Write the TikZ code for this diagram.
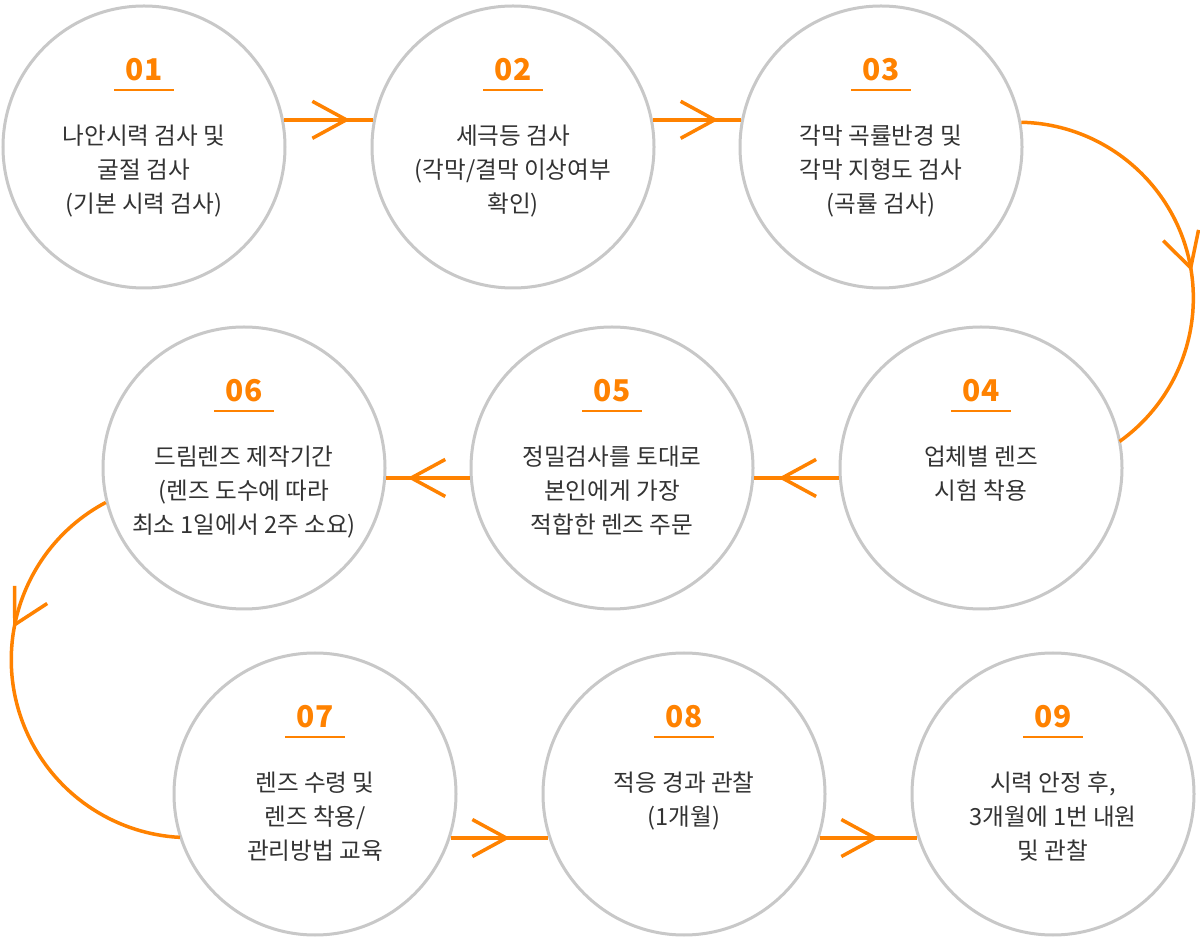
\documentclass[tikz,border=0pt]{standalone}
\usepackage{fontspec}
\newfontfamily\kr{Noto Sans CJK KR}
\usetikzlibrary{decorations.markings}
\definecolor{org}{HTML}{FF8200}
\definecolor{ring}{HTML}{C8C8C8}
\definecolor{txt}{HTML}{333333}
\tikzset{
  stepcircle/.style={circle, draw=ring, line width=1.5pt, minimum size=141pt, inner sep=0pt, fill=white},
  numlabel/.style={font=\kr\bfseries\fontsize{15pt}{15pt}\selectfont, text=org, anchor=base, inner sep=0pt},
  desc/.style={font=\kr\fontsize{11.8pt}{17pt}\selectfont, text=txt, align=center, anchor=north, inner sep=0pt},
  uline/.style={draw=org, line width=0.6pt},
  link/.style={draw=org, line width=1.75pt},
  vmark/.style 2 args={postaction=decorate, decoration={markings, mark=at position #1 with {\draw[org, line width=1.75pt, rotate=#2] (-17pt,9.25pt) -- (0pt,0pt) -- (-17pt,-9.25pt);}}}
}
\newcommand\mkstep[4]{%
  \node[stepcircle] (#1) at (#2) {};
  \node[numlabel, yshift=33pt] (#1n) at (#1.center) {#3};
  \draw[uline] ([xshift=-15pt,yshift=28.5pt]#1.center) -- ++(30pt,0pt);
  \node[desc, yshift=13.4pt] (#1t) at (#1.center) {\rule{0pt}{12pt}#4};
}
\begin{document}
\begin{tikzpicture}[x=0.5pt,y=-0.5pt]
\fill[white] (0,0) rectangle (1200,940);
\useasboundingbox (0,0) rectangle (1200,940);

\mkstep{c1}{144,147}{01}{나안시력 검사 및\\굴절 검사\\(기본 시력 검사)}
\mkstep{c2}{513,147}{02}{세극등 검사\\(각막/결막 이상여부\\확인)}
\mkstep{c3}{881,147}{03}{각막 곡률반경 및\\각막 지형도 검사\\(곡률 검사)}
\mkstep{c4}{981,468}{04}{업체별 렌즈\\시험 착용}
\mkstep{c5}{612,468}{05}{정밀검사를 토대로\\본인에게 가장\\적합한 렌즈 주문}
\mkstep{c6}{244,468}{06}{드림렌즈 제작기간\\(렌즈 도수에 따라\\최소 1일에서 2주 소요)}
\mkstep{c7}{315,794}{07}{렌즈 수령 및\\렌즈 착용/\\관리방법 교육}
\mkstep{c8}{684,794}{08}{적응 경과 관찰\\(1개월)}
\mkstep{c9}{1053,794}{09}{시력 안정 후,\\3개월에 1번 내원\\및 관찰}

% row 1
\draw[link, vmark={0.7}{0}] (c1.11) -- (c2.169);
\draw[link, vmark={0.7}{0}] (c2.11) -- (c3.169);
% right arc
\draw[link, vmark={0.55}{7}] (c3.10) arc[start angle=88.7, end angle=-54.5, radius=88pt];
% row 2
\draw[link, vmark={0.67}{0}] (c4.184) -- (c5.356);
\draw[link, vmark={0.7}{0}] (c5.184) -- (c6.356);
% left arc
\draw[link, vmark={0.34}{-17}] (c6.194) arc[start angle=118, end angle=267, radius=89pt];
% row 3
\draw[link, vmark={0.57}{0}] (c7.342) -- (c8.198);
\draw[link, vmark={0.57}{0}] (c8.342) -- (c9.198);
\end{tikzpicture}
\end{document}
